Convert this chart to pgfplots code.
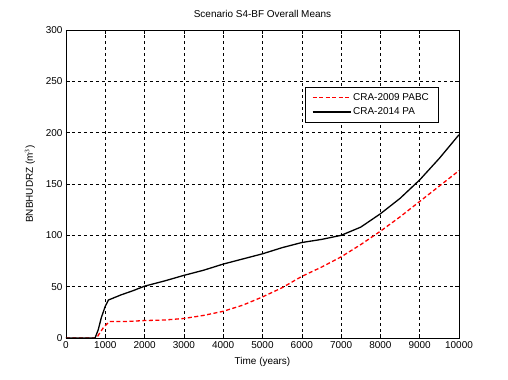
\documentclass[border=0pt]{standalone}
\usepackage{pgfplots}
\pgfplotsset{compat=1.18}
\usepackage{fontspec}
\setmainfont{Liberation Sans}
\begin{document}
\fontsize{10}{12}\selectfont
\begin{tikzpicture}
\begin{axis}[
  scale only axis,
  width=393bp, height=308bp,
  xmin=0, xmax=10000, ymin=0, ymax=300,
  xtick={0,1000,...,10000},
  ytick={0,50,...,300},
  scaled x ticks=false,
  /pgf/number format/1000 sep={},
  /pgf/number format/assume math mode=true,
  tick align=inside,
  tick style={black, line width=0.5bp},
  major tick length=4bp,
  axis line style={black, line width=0.6bp},
  grid=major,
  major grid style={black, dash pattern=on 3bp off 3bp, line width=0.5bp},
  title={Scenario S4-BF Overall Means},
  title style={yshift=3bp},
  xlabel={Time (years)},
  ylabel={BNBHUDRZ (m$^3$)},
  xlabel style={yshift=-2bp},
  ylabel style={yshift=4bp},
  tick label style={font=\fontsize{10}{12}\selectfont},
  label style={font=\fontsize{10}{12}\selectfont},
  title style={font=\fontsize{10}{12}\selectfont},
  legend style={at={(0.947,0.815)}, anchor=north east, draw=black, line width=0.6bp, font=\fontsize{10}{12}\selectfont, inner xsep=7bp, inner ysep=4bp, row sep=2bp},
  legend image code/.code={\draw[#1] (0bp,0bp) -- (38bp,0bp);},
  legend cell align=left,
]
\addplot[red, line width=1.3bp, dash pattern=on 4bp off 2.5bp] coordinates {
(0,0) (780,0) (860,5) (950,10) (1050,14) (1120,16) (1500,16) (2000,17) (2500,17.5) (3000,19) (3500,22) (4000,26) (4500,32) (5000,40) (5500,49) (6000,60) (6500,69) (7000,79) (7500,91) (8000,104) (8500,118) (9000,133) (9500,148) (10000,163)
};
\addlegendentry{CRA-2009 PABC}
\addplot[black, line width=1.3bp] coordinates {
(0,0) (740,0) (820,8) (900,20) (1000,31) (1080,37) (1400,42) (1700,46) (2000,50.5) (2500,55.5) (3000,61) (3500,66) (4000,72) (4500,77) (5000,82) (5500,88) (6000,93) (6500,96) (7000,100) (7500,108) (8000,121) (8500,136) (9000,154) (9500,175) (10000,198)
};
\addlegendentry{CRA-2014 PA}
\end{axis}
\path[use as bounding box] (-66bp,-42bp) rectangle (442bp,338bp);
\end{tikzpicture}
\end{document}
